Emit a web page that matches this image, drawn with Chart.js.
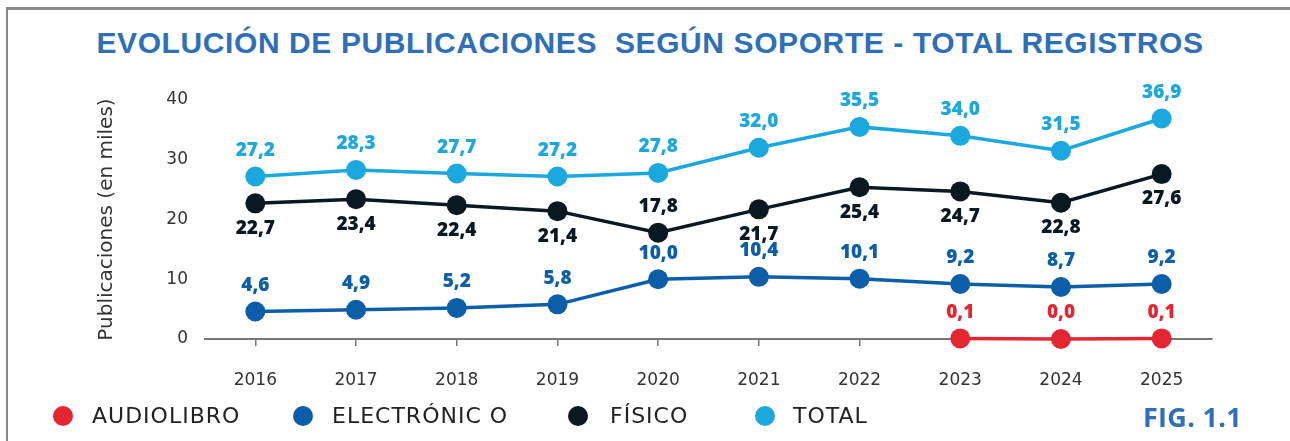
<!DOCTYPE html>
<html>
<head>
<meta charset="utf-8">
<script src="https://cdn.jsdelivr.net/npm/chart.js@4.4.1/dist/chart.umd.min.js"></script>
<style>
  html, body { margin: 0; padding: 0; background: #fff; }
  #wrap { position: relative; width: 1290px; height: 441px; overflow: hidden; }
  #frame { position: absolute; left: 6px; top: 7px; right: -10px; bottom: -10px;
           border-left: 2px solid #888; border-top: 3px solid #888; }
  #chartBox { position: absolute; left: 0; top: 0; width: 1290px; height: 441px; }
  #title { position: absolute; left: 0; width: 1300px; top: 26px; text-align: center;
           font: bold 30px "Liberation Sans", sans-serif; letter-spacing: 0.6px;
           color: #2f6fb7; white-space: pre; }
  .leg { position: absolute; top: 403px; font: 22px "DejaVu Sans", sans-serif;
         color: #222; letter-spacing: 1px; white-space: pre; }
  .dot { position: absolute; top: 406px; width: 20px; height: 20px; border-radius: 50%; }
  #fig { position: absolute; left: 1143px; top: 398px; font: bold 27px "Open Sans", sans-serif;
         color: #2f6fb7; letter-spacing: 0.3px; }
</style>
</head>
<body>
<div id="wrap">
  <div id="frame"></div>
  <div id="title">EVOLUCIÓN DE PUBLICACIONES  SEGÚN SOPORTE - TOTAL REGISTROS</div>
  <div id="chartBox"><canvas id="chart"></canvas></div>
  <div id="legend"></div>
  <div id="fig">FIG. 1.1</div>
</div>
<script>
// datos por año (en miles)
const years = ['2016', '2017', '2018', '2019', '2020', '2021', '2022', '2023', '2024', '2025']
const total = [27.2, 28.3, 27.7, 27.2, 27.8, 32.0, 35.5, 34.0, 31.5, 36.9]
const fisico = [22.7, 23.4, 22.4, 21.4, 17.8, 21.7, 25.4, 24.7, 22.8, 27.6]
const electronico = [4.6, 4.9, 5.2, 5.8, 10.0, 10.4, 10.1, 9.2, 8.7, 9.2]
const audiolibro = [null, null, null, null, null, null, null, 0.1, 0.0, 0.1]
const yTicks = [0, 10, 20, 30, 40]

const legendNames = ['AUDIOLIBRO', 'ELECTRÓNIC O', 'FÍSICO', 'TOTAL']
const colors = {
  audio: '#e42532',
  elec: '#0d5ea8',
  fis: '#0a1822',
  total: '#1aa8df',
}

// leyenda en HTML
const legendSpots = [[53, 92], [293, 332], [568, 610], [755, 793]]
const legendColors = [colors.audio, colors.elec, colors.fis, colors.total]
const legendEl = document.getElementById('legend')
legendNames.forEach((name, i) => {
  const dot = document.createElement('div')
  dot.className = 'dot'
  dot.style.left = legendSpots[i][0] + 'px'
  dot.style.background = legendColors[i]
  legendEl.appendChild(dot)
  const txt = document.createElement('div')
  txt.className = 'leg'
  txt.style.left = legendSpots[i][1] + 'px'
  txt.textContent = name
  legendEl.appendChild(txt)
})

function fmt(v) {
  return v.toFixed(1).replace('.', ',')
}

// etiquetas de valores sobre / bajo los puntos
const valueLabels = {
  id: 'valueLabels',
  afterDatasetsDraw(chart) {
    const ctx = chart.ctx
    ctx.save()
    ctx.font = '800 19px "Open Sans", sans-serif'
    ctx.textAlign = 'center'
    ctx.textBaseline = 'middle'
    chart.data.datasets.forEach((ds, di) => {
      const meta = chart.getDatasetMeta(di)
      meta.data.forEach((pt, i) => {
        const v = ds.data[i]
        if (v === null || v === undefined) return
        const below = ds.labelBelow ? ds.labelBelow(i) : false
        ctx.fillStyle = ds.borderColor
        ctx.fillText(fmt(v), pt.x, below ? pt.y + 25 : pt.y - 26)
      })
    })
    ctx.restore()
  },
}

function series(label, data, color, extra) {
  return Object.assign({
    label: label,
    data: data,
    borderColor: color,
    backgroundColor: color,
    pointBackgroundColor: color,
    pointBorderWidth: 0,
    pointRadius: 10,
    pointHoverRadius: 10,
    borderWidth: 3.5,
    tension: 0,
    spanGaps: false,
    clip: false,
  }, extra || {})
}

const chart = new Chart(document.getElementById('chart'), {
  type: 'line',
  data: {
    labels: years,
    datasets: [
      series('AUDIOLIBRO', audiolibro, colors.audio),
      series('ELECTRÓNICO', electronico, colors.elec),
      series('FÍSICO', fisico, colors.fis, { labelBelow: i => i !== 4 }),
      series('TOTAL', total, colors.total),
    ],
  },
  options: {
    responsive: true,
    maintainAspectRatio: false,
    animation: false,
    layout: { padding: { left: 95, right: 78, top: 100, bottom: 47 } },
    plugins: {
      legend: { display: false },
      tooltip: { enabled: false },
    },
    scales: {
      x: {
        offset: true,
        afterFit: s => { s.height = 55 },
        border: { display: true, color: '#777', width: 2, z: -1 },
        grid: { display: true, drawOnChartArea: false, drawTicks: true, tickLength: 7, color: '#777', lineWidth: 1.5 },
        ticks: { color: '#333', padding: 24, font: { family: 'DejaVu Sans', size: 17 } },
      },
      y: {
        min: 0,
        max: 40,
        afterFit: s => { s.width = 110 },
        afterBuildTicks: s => { s.ticks = yTicks.map(v => ({ value: v })) },
        border: { display: false },
        grid: { display: false },
        ticks: { color: '#333', padding: 9, font: { family: 'DejaVu Sans', size: 17 } },
        title: {
          display: true,
          text: 'Publicaciones (en miles)',
          color: '#333',
          padding: 0,
          font: { family: 'DejaVu Sans', size: 20 },
        },
      },
    },
  },
  plugins: [valueLabels],
})
</script>
</body>
</html>
